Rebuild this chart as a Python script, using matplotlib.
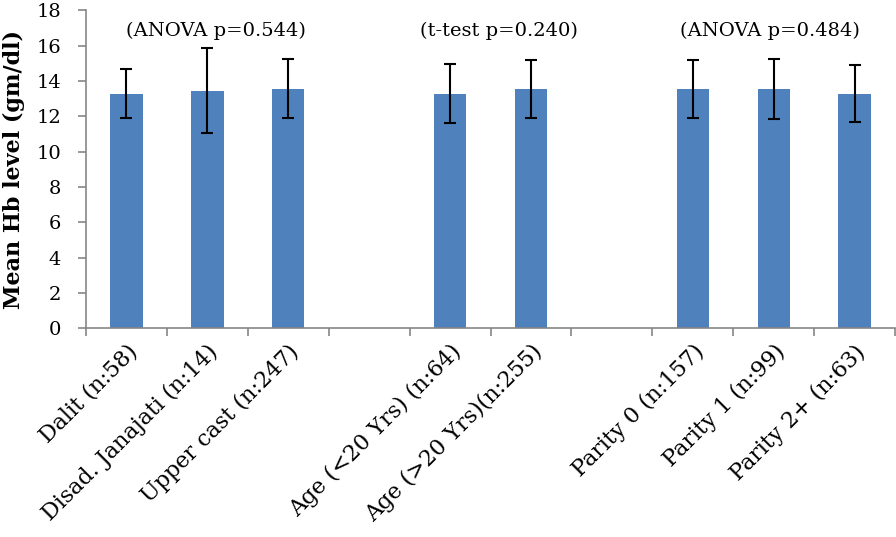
import numpy as np
import matplotlib
matplotlib.use("Agg")
import matplotlib.pyplot as plt

plt.rcParams['font.family'] = ['DejaVu Serif', 'Liberation Serif']

# Data (empty strings = gaps between groups)
labels = ['Dalit (n:58)', 'Disad. Janajati (n:14)', 'Upper cast (n:247)', '',
          'Age (<20 Yrs) (n:64)', 'Age (>20 Yrs)(n:255)', '',
          'Parity 0 (n:157)', 'Parity 1 (n:99)', 'Parity 2+ (n:63)']
mean_hb = [13.28, 13.45, 13.56, np.nan, 13.28, 13.54, np.nan, 13.54, 13.54, 13.28]
sd_hb = [1.37, 2.40, 1.65, np.nan, 1.68, 1.65, np.nan, 1.62, 1.72, 1.60]

tests = ['(ANOVA p=0.544)', '(t-test p=0.240)', '(ANOVA p=0.484)']

fig = plt.figure(figsize=(8.96, 5.37), dpi=100)
ax = fig.add_axes([0.096, 0.3886, 0.903, 0.5925])

x = np.arange(len(labels))
ax.bar(x, mean_hb, width=0.4, color='#4F81BD', zorder=2)
ax.errorbar(x, mean_hb, yerr=sd_hb, fmt='none', ecolor='black',
            elinewidth=1.5, capsize=4.3, capthick=1.5, zorder=3)

ax.set_xlim(-0.5, len(labels) - 0.5)
ax.set_ylim(0, 18)
ax.set_yticks(range(0, 19, 2))

# tick marks at category boundaries, labels at centres
ax.set_xticks(np.arange(-0.5, len(labels), 1.0))
ax.set_xticklabels([])
ax.set_xticks(x, minor=True)
ax.set_xticklabels(labels, minor=True, rotation=45, ha='right',
                   rotation_mode='anchor', fontsize=16)
ax.tick_params(axis='x', which='minor', length=0, pad=9)
ax.tick_params(axis='x', which='major', length=6, color='#868686', width=1.2)
ax.tick_params(axis='y', length=6, color='#868686', width=1.2, labelsize=14, pad=12)

for s in ['top', 'right']:
    ax.spines[s].set_visible(False)
for s in ['left', 'bottom']:
    ax.spines[s].set_color('#868686')
    ax.spines[s].set_linewidth(1.2)

ax.set_ylabel('Mean Hb level (gm/dl)', fontsize=16, fontweight='bold', labelpad=8)

ax.text(1.1, 16.85, tests[0], ha='center', va='center', fontsize=14)
ax.text(4.6, 16.85, tests[1], ha='center', va='center', fontsize=14)
ax.text(7.95, 16.85, tests[2], ha='center', va='center', fontsize=14)

fig.savefig('out.png', dpi=100)
